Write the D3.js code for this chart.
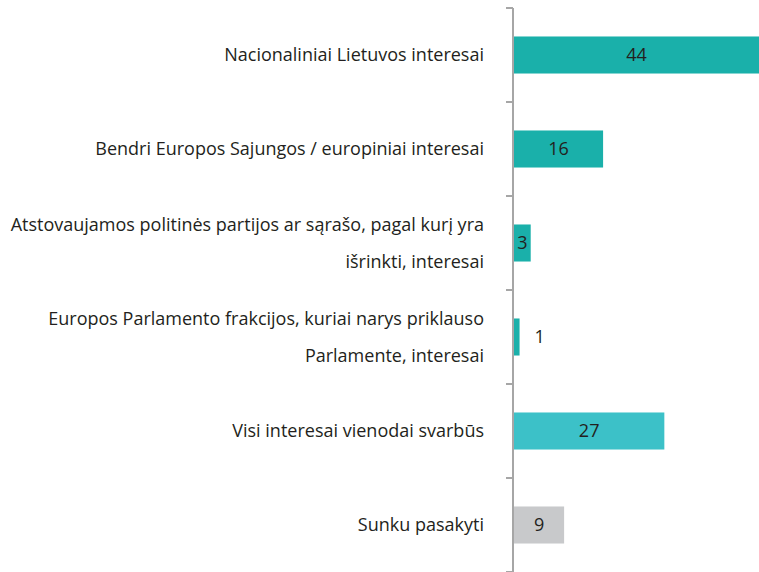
<!DOCTYPE html>
<html><head><meta charset="utf-8">
<script src="https://cdn.jsdelivr.net/npm/d3@7"></script>
<style>body{margin:0;background:#fff}svg{display:block}</style>
</head><body>
<script>
const categories = [
  ["Nacionaliniai Lietuvos interesai"],
  ["Bendri Europos Sajungos / europiniai interesai"],
  ["Atstovaujamos politinės partijos ar sąrašo, pagal kurį yra", "išrinkti, interesai"],
  ["Europos Parlamento frakcijos, kuriai narys priklauso", "Parlamente, interesai"],
  ["Visi interesai vienodai svarbūs"],
  ["Sunku pasakyti"]
];
const values = [44, 16, 3, 1, 27, 9];
const colors = ["#1AB0AA", "#1AB0AA", "#1AB0AA", "#1AB0AA", "#3CC1C8", "#C8C9CB"];

const W = 759, H = 572;
const svg = d3.select("body").append("svg").attr("width", W).attr("height", H);
const font = "'Open Sans', sans-serif";
const fs = 18;

const ids = categories.map((c, i) => i);
const y = d3.scaleBand().domain(ids).range([8, 572]).padding(0);
const x = d3.scaleLinear().domain([0, 44]).range([514, 759]);
const bh = y.bandwidth() * 0.394;

// bars
svg.selectAll("rect.bar").data(ids).join("rect")
  .attr("x", x(0))
  .attr("y", i => y(i) + (y.bandwidth() - bh) / 2)
  .attr("width", i => x(values[i]) - x(0))
  .attr("height", bh)
  .attr("fill", i => colors[i]);

// axis line and ticks
const ax = svg.append("g").attr("stroke", "#A6A6A6").attr("stroke-width", 2);
ax.append("line").attr("x1", 513).attr("x2", 513).attr("y1", 8).attr("y2", 572);
const bounds = ids.map(i => y(i)).concat([y(ids.length - 1) + y.bandwidth()]);
ax.selectAll("line.t").data(bounds).join("line")
  .attr("x1", 506).attr("x2", 513).attr("y1", d => d).attr("y2", d => d);

// category labels
const lineH = 37;
ids.forEach(i => {
  const lines = categories[i];
  const cy = y(i) + y.bandwidth() / 2;
  const t = svg.append("text")
    .attr("text-anchor", "end")
    .attr("font-family", font).attr("font-size", fs).attr("fill", "#231F20");
  lines.forEach((l, k) => {
    t.append("tspan").attr("x", 484)
      .attr("y", cy + (k - (lines.length - 1) / 2) * lineH)
      .attr("dy", "0.35em").text(l);
  });
});

// value labels
svg.selectAll("text.v").data(ids).join("text")
  .attr("x", i => values[i] < 2 ? x(values[i]) + 20 : (x(0) + x(values[i])) / 2)
  .attr("y", i => y(i) + y.bandwidth() / 2)
  .attr("dy", "0.35em")
  .attr("text-anchor", "middle")
  .attr("font-family", font).attr("font-size", fs).attr("fill", "#231F20")
  .text(i => values[i]);
</script>
</body></html>
